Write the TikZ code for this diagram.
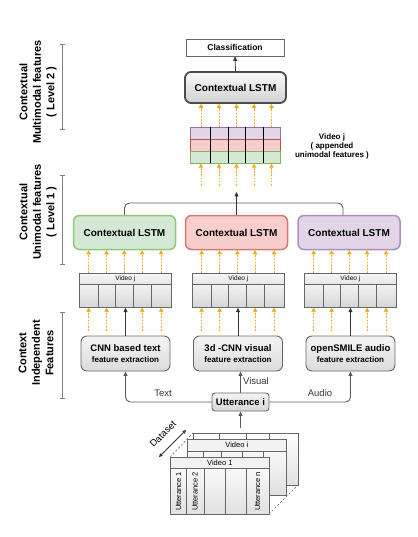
\documentclass[tikz,border=0pt]{standalone}
\usepackage{fontspec}
\setmainfont{Liberation Sans}
\usetikzlibrary{arrows.meta,calc}
\definecolor{gfill}{HTML}{D5E8D4}\definecolor{gdraw}{HTML}{8CC97A}
\definecolor{rfill}{HTML}{F8CECC}\definecolor{rdraw}{HTML}{D67975}
\definecolor{pfill}{HTML}{E1D5E7}\definecolor{pdraw}{HTML}{B08CC4}
\definecolor{gdrk}{HTML}{82B366}\definecolor{rdrk}{HTML}{B85450}\definecolor{pdrk}{HTML}{9673A6}
\definecolor{corange}{HTML}{F2A91C}
\definecolor{bordgray}{HTML}{666666}
\definecolor{conngray}{HTML}{5A5A5A}
\definecolor{brgray}{HTML}{808080}
\newcommand{\ugrid}[3]{%
  \node[gridhead, minimum width=92pt, minimum height=11pt, anchor=north west] (#1h) at (#2,#3) {Video j};
  \foreach \i/\a/\b in {1/0/18.5, 2/18.5/36, 3/36/54, 4/54/71.5, 5/71.5/92}{
    \node[gridcell, minimum width={(\b-\a)*1pt}, minimum height=23pt, anchor=north west] (#1c\i) at ({#2+\a},{#3+11}) {};
  }%
}
\begin{document}
\begin{tikzpicture}[x=1pt,y=-1pt,
  lstm/.style={draw, rounded corners=6pt, line width=1.5pt, minimum width=102pt, minimum height=34pt, inner sep=0pt, font=\fontsize{10}{12}\selectfont\bfseries},
  fbox/.style={draw=bordgray, line width=0.9pt, rounded corners=6pt, top color=white!96!black, bottom color=white!86!black, minimum width=89pt, minimum height=35pt, inner sep=0pt, align=center},
  gridhead/.style={draw=bordgray, line width=0.7pt, top color=white!97!black, bottom color=white!90!black, inner sep=0pt, font=\fontsize{6.5}{7}\selectfont},
  gridcell/.style={draw=bordgray, line width=0.7pt, top color=white!95!black, bottom color=white!84!black, inner sep=0pt},
  oarrow/.style={draw=corange, line width=0.9pt, dash pattern=on 1.6pt off 1.6pt, -{Triangle[width=4.5pt,length=4pt]}, fill=corange},
  blk/.style={draw=black!80, line width=0.8pt, -{Triangle[width=4pt,length=4.5pt]}},
  conn/.style={draw=conngray, line width=0.9pt, rounded corners=5pt},
  lvl/.style={draw=brgray, line width=1pt, {Bar[width=5pt]}-{Bar[width=5pt]}},
  side/.style={rotate=90, align=center, font=\fontsize{11}{13.5}\selectfont\bfseries},
  sheet/.style={draw=bordgray, line width=0.6pt, top color=white, bottom color=white!88!black},
  sheethead/.style={draw=bordgray, line width=0.6pt, fill=white!95!black}
]
\useasboundingbox (0,0) rectangle (417,537);

% ---------- left side labels ----------
\node[side] (l2) at (38,92) {Contextual\\Multimodal features\\( Level 2 )};
\node[side] (l1) at (38,212) {Contextual\\Unimodal features\\( Level 1 )};
\node[side] (l0) at (36,353) {Context\\Independent\\Features};
\coordinate (l2a) at (62,44); \coordinate (l2b) at (62,130);
\coordinate (l1a) at (62,175); \coordinate (l1b) at (62,265);
\coordinate (l0a) at (62,312); \coordinate (l0b) at (62,399);
\draw[lvl] (l2a) -- (l2b);
\draw[lvl] (l1a) -- (l1b);
\draw[lvl] (l0a) -- (l0b);

% ---------- level 2 ----------
\node[draw=bordgray, line width=0.9pt, fill=white, minimum width=98pt, minimum height=17pt, inner sep=0pt, font=\fontsize{8.5}{10}\selectfont\bfseries] (cls) at (235,47.5) {Classification};
\node[lstm, draw=black!70, line width=1.8pt, top color=white!98!black, bottom color=white!82!black, minimum width=101pt, minimum height=31pt] (toplstm) at (235.5,87.5) {Contextual LSTM};
\draw[blk] (toplstm.north) -- (cls.south);

% multimodal grid
\node[draw=pdrk, fill=pfill, line width=0.7pt, minimum width=90pt, minimum height=12pt, inner sep=0pt, anchor=north west] (mmP) at (190,127) {};
\node[draw=rdrk, fill=rfill, line width=0.7pt, minimum width=90pt, minimum height=12pt, inner sep=0pt, anchor=north west] (mmR) at (190,139) {};
\node[draw=gdrk, fill=gfill, line width=0.7pt, minimum width=90pt, minimum height=12pt, inner sep=0pt, anchor=north west] (mmG) at (190,151) {};
\foreach \x in {210,228,245,263}{ \draw[black, line width=0.8pt] (\x,127) -- (\x,163); }
\foreach \i/\x in {1/201,2/219,3/236.5,4/254,5/271.5}{
  \coordinate (mmx\i) at (\x,127);
  \draw[oarrow] (mmx\i) -- (mmx\i |- toplstm.south);
  \path (mmx\i |- mmG.south) ++(0,22) coordinate (mmb\i);
  \draw[oarrow] (mmb\i) -- (mmb\i |- mmG.south);
}
\node[align=center, font=\fontsize{8}{9}\selectfont\bfseries] (mmlab) at (332,146) {Video j\\( appended\\unimodal features )};

% ---------- level 1 ----------
\node[lstm, draw=gdraw, fill=gfill] (glstm) at (124.5,232.5) {Contextual LSTM};
\node[lstm, draw=rdraw, fill=rfill] (rlstm) at (236.5,232.5) {Contextual LSTM};
\node[lstm, draw=pdraw, fill=pfill] (plstm) at (349,232.5) {Contextual LSTM};
\coordinate (mj) at (236.5,203);
\coordinate (pin) at (343,215);
\coordinate (mmin) at (236.5,192);
\draw[conn] (glstm.north) |- (mj) -| (pin);
\draw[blk] (rlstm.north) -- (mmin);

% unimodal grids
\ugrid{tg}{79}{273}
\ugrid{vg}{192}{273}
\ugrid{ag}{304}{273}
\foreach \g/\l in {tg/glstm, vg/rlstm, ag/plstm}{
  \foreach \i in {1,...,5}{
    \draw[oarrow] (\g c\i.north |- \g h.north) -- (\g c\i.north |- \l.south);
  }
  \foreach \i in {1,2,4,5}{
    \path (\g c\i.south) ++(0,23) coordinate (\g b\i);
    \draw[oarrow] (\g b\i) -- (\g c\i.south);
  }
}

% ---------- context independent ----------
\node[fbox] (tfe) at (125.5,353.5) {{\fontsize{9.5}{11}\selectfont\bfseries CNN based text}\\[-1pt]{\fontsize{8}{9}\selectfont\bfseries feature extraction}};
\node[fbox] (vfe) at (238,353.5) {{\fontsize{9.5}{11}\selectfont\bfseries 3d -CNN visual}\\[-1pt]{\fontsize{8}{9}\selectfont\bfseries feature extraction}};
\node[fbox] (afe) at (350.5,353.5) {{\fontsize{9.5}{11}\selectfont\bfseries openSMILE audio}\\[-1pt]{\fontsize{8}{9}\selectfont\bfseries feature extraction}};
\draw[blk] (tfe.north) -- (tfe.north |- tgc3.south);
\draw[blk] (vfe.north) -- (vfe.north |- vgc3.south);
\draw[blk] (afe.north) -- (afe.north |- agc3.south);

\node[draw=bordgray, line width=0.9pt, rounded corners=3pt, top color=white!96!black, bottom color=white!84!black, minimum width=57pt, minimum height=18pt, inner sep=0pt, font=\fontsize{9.5}{11}\selectfont\bfseries] (utt) at (240.5,402) {Utterance i};
\draw[conn, -{Triangle[width=4pt,length=4.5pt]}] (utt.west) -| (tfe.south);
\draw[conn, -{Triangle[width=4pt,length=4.5pt]}] (utt.east) -| (afe.south);
\draw[blk, draw=conngray] (utt.north) -- (utt.north |- vfe.south);
\node[font=\fontsize{9.5}{11}\selectfont, text=black!80] (ltext) at (163,393) {Text};
\node[font=\fontsize{9.5}{11}\selectfont, text=black!80] (laudio) at (320,393) {Audio};
\node[font=\fontsize{9.5}{11}\selectfont, text=black!80] (lvis) at (256,381) {Visual};

% ---------- dataset stack ----------
\coordinate (ftl) at (170,457); \coordinate (btl) at (193,433);
\coordinate (fbr) at (269,514); \coordinate (bbr) at (298,485);
\draw[bordgray, line width=0.6pt, dash pattern=on 2pt off 2pt] (ftl) -- (btl);
\draw[bordgray, line width=0.6pt, dash pattern=on 2pt off 2pt] (fbr) -- (bbr);
% back sheet
\node[sheet, minimum width=105pt, minimum height=52pt, inner sep=0pt, anchor=north west] (bsheet) at (193,433) {};
\foreach \x in {219,246,269}{ \draw[bordgray, line width=0.6pt] (\x,433) -- (\x,485); }
% middle sheet
\node[sheet, minimum width=99pt, minimum height=56pt, inner sep=0pt, anchor=north west] (msheet) at (187,439) {};
\node[sheethead, minimum width=99pt, minimum height=12pt, inner sep=0pt, anchor=north west, font=\fontsize{7.5}{9}\selectfont] (mhead) at (187,439) {Video i};
\foreach \x in {203,221,242,263}{ \draw[bordgray, line width=0.6pt] (\x,451) -- (\x,495); }
% front sheet
\node[sheet, minimum width=99pt, minimum height=57pt, inner sep=0pt, anchor=north west] (fsheet) at (170,457) {};
\node[sheethead, minimum width=99pt, minimum height=11pt, inner sep=0pt, anchor=north west, font=\fontsize{7.5}{9}\selectfont] (fhead) at (170,457) {Video 1};
\foreach \x in {186,204,225,246}{ \draw[bordgray, line width=0.6pt] (\x,468) -- (\x,514); }
\node[rotate=90, anchor=west, font=\fontsize{7.5}{9}\selectfont, inner sep=1pt] (u1) at (178.5,512) {Utterance 1};
\node[rotate=90, anchor=west, font=\fontsize{7.5}{9}\selectfont, inner sep=1pt] (u2) at (195,512) {Utterance 2};
\node[rotate=90, anchor=west, font=\fontsize{7.5}{9}\selectfont, inner sep=1pt] (un) at (257.5,512) {Utterance n};

\coordinate (dstop) at (240.5,428);
\draw[blk, draw=conngray] (dstop) -- (utt.south);

\node[rotate=45, font=\fontsize{9.5}{11}\selectfont, inner sep=1pt] (dslab) at (163,434) {Dataset};
\coordinate (dsa) at (159,457); \coordinate (dsb) at (186,430);
\draw[black!80, line width=0.8pt, {Triangle[width=3.5pt,length=3.5pt]}-{Triangle[width=3.5pt,length=3.5pt]}] (dsa) -- (dsb);
\end{tikzpicture}
\end{document}
